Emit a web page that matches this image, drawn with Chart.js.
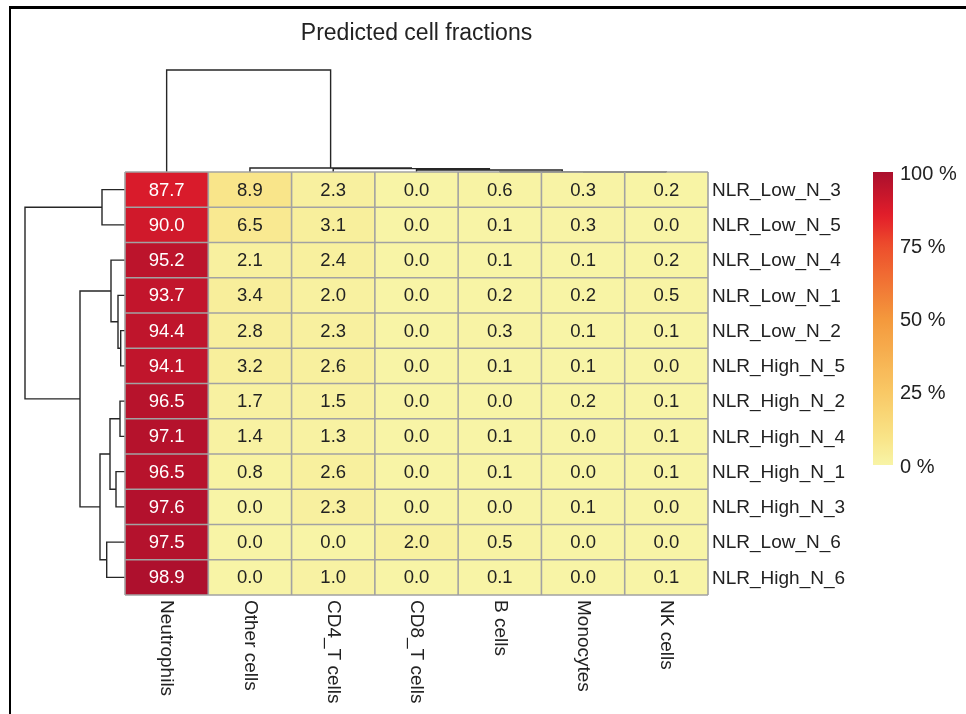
<!DOCTYPE html>
<html>
<head>
<meta charset="utf-8">
<script src="https://cdn.jsdelivr.net/npm/chart.js@4/dist/chart.umd.min.js"></script>
<style>
  html, body { margin: 0; padding: 0; background: #ffffff; }
  canvas { display: block; }
</style>
</head>
<body>
<canvas id="heatmap" width="966" height="714"></canvas>
<script>
// Samples (rows, in clustered order) and cell types (columns, in clustered order)
const sampleLabels = [
  "NLR_Low_N_3", "NLR_Low_N_5", "NLR_Low_N_4", "NLR_Low_N_1", "NLR_Low_N_2", "NLR_High_N_5",
  "NLR_High_N_2", "NLR_High_N_4", "NLR_High_N_1", "NLR_High_N_3", "NLR_Low_N_6", "NLR_High_N_6"
];
const cellTypes = ["Neutrophils", "Other cells", "CD4_T cells", "CD8_T cells", "B cells", "Monocytes", "NK cells"];

// Predicted fraction (%) of each cell type per sample
const neutrophils = [87.7, 90.0, 95.2, 93.7, 94.4, 94.1, 96.5, 97.1, 96.5, 97.6, 97.5, 98.9];
const otherCells  = [8.9, 6.5, 2.1, 3.4, 2.8, 3.2, 1.7, 1.4, 0.8, 0.0, 0.0, 0.0];
const cd4TCells   = [2.3, 3.1, 2.4, 2.0, 2.3, 2.6, 1.5, 1.3, 2.6, 2.3, 0.0, 1.0];
const cd8TCells   = [0.0, 0.0, 0.0, 0.0, 0.0, 0.0, 0.0, 0.0, 0.0, 0.0, 2.0, 0.0];
const bCells      = [0.6, 0.1, 0.1, 0.2, 0.3, 0.1, 0.0, 0.1, 0.1, 0.0, 0.5, 0.1];
const monocytes   = [0.3, 0.3, 0.1, 0.2, 0.1, 0.1, 0.2, 0.0, 0.0, 0.1, 0.0, 0.0];
const nkCells     = [0.2, 0.0, 0.2, 0.5, 0.1, 0.0, 0.1, 0.1, 0.1, 0.0, 0.0, 0.1];
const fractionsByType = [neutrophils, otherCells, cd4TCells, cd8TCells, bCells, monocytes, nkCells];

const colorbarTicks = [0, 25, 50, 75, 100];

// Hierarchical clustering merges: [childA, childB, distance].
// Children < leaf count are leaves; higher ids refer to earlier merges.
const rowLinkage = [
  [4, 5, 4.3],    // 12
  [3, 12, 7],     // 13
  [2, 13, 14],    // 14
  [6, 7, 5],      // 15
  [8, 9, 9],      // 16
  [15, 16, 15],   // 17
  [10, 11, 18.3], // 18
  [17, 18, 25],   // 19
  [14, 19, 45],   // 20
  [0, 1, 23],     // 21
  [21, 20, 100]   // 22
];
const colLinkage = [
  [5, 6, 0.05],   // 7
  [4, 7, 0.1],    // 8
  [3, 8, 2],      // 9
  [2, 9, 3.4],    // 10
  [1, 10, 4],     // 11
  [0, 11, 102]    // 12
];

// Sequential yellow -> orange -> red palette
const paletteStops = [
  [0.00, [248, 244, 166]],
  [0.10, [249, 227, 134]],
  [0.25, [249, 200, 101]],
  [0.50, [244, 152, 60]],
  [0.75, [237, 77, 44]],
  [0.85, [227, 30, 42]],
  [1.00, [170, 15, 45]]
];
function heatColor(pct) {
  const t = Math.max(0, Math.min(1, pct / 100));
  for (let i = 1; i < paletteStops.length; i++) {
    const [t1, c1] = paletteStops[i];
    const [t0, c0] = paletteStops[i - 1];
    if (t <= t1) {
      const f = (t - t0) / (t1 - t0);
      const c = c0.map((v, k) => Math.round(v + (c1[k] - v) * f));
      return `rgb(${c[0]},${c[1]},${c[2]})`;
    }
  }
  const c = paletteStops[paletteStops.length - 1][1];
  return `rgb(${c[0]},${c[1]},${c[2]})`;
}

const FONT = '"Liberation Sans", Arial, Helvetica, sans-serif';
const TEXT = '#222222';

// Each cell type is one dataset of floating bars spanning [c, c+1] on the x axis
const datasets = cellTypes.map((name, c) => ({
  label: name,
  data: sampleLabels.map(() => [c, c + 1]),
  backgroundColor: fractionsByType[c].map(v => heatColor(v)),
  borderWidth: 0,
  grouped: false,
  barPercentage: 1,
  categoryPercentage: 1
}));

function dendroPositions(linkage, leafPos) {
  const pos = leafPos.slice();
  const height = leafPos.map(() => 0);
  linkage.forEach(([a, b, h]) => {
    pos.push((pos[a] + pos[b]) / 2);
    height.push(h);
  });
  return { pos, height };
}

const decorations = {
  id: 'decorations',
  beforeDraw(chart) {
    const ctx = chart.ctx;
    ctx.save();
    ctx.fillStyle = '#ffffff';
    ctx.fillRect(0, 0, chart.width, chart.height);
    // page frame
    ctx.fillStyle = '#000000';
    ctx.fillRect(9, 6, chart.width - 9, 3);
    ctx.fillRect(9, 6, 2, chart.height - 6);
    ctx.restore();
  },
  afterDatasetsDraw(chart) {
    const { ctx, chartArea: area, scales: { x, y } } = chart;
    ctx.save();

    // row dendrogram (left)
    ctx.strokeStyle = '#262626';
    ctx.lineWidth = 1.4;
    const rowLeaves = sampleLabels.map((_, r) => y.getPixelForValue(r));
    const rd = dendroPositions(rowLinkage, rowLeaves);
    const rowMax = Math.max(...rowLinkage.map(l => l[2]));
    const rowDepth = 100;
    const hx = h => area.left - h / rowMax * rowDepth;
    ctx.beginPath();
    rowLinkage.forEach(([a, b, h]) => {
      ctx.moveTo(hx(rd.height[a]), rd.pos[a]);
      ctx.lineTo(hx(h), rd.pos[a]);
      ctx.lineTo(hx(h), rd.pos[b]);
      ctx.lineTo(hx(rd.height[b]), rd.pos[b]);
    });
    ctx.stroke();

    // column dendrogram (top)
    const colLeaves = cellTypes.map((_, c) => x.getPixelForValue(c + 0.5));
    const cd = dendroPositions(colLinkage, colLeaves);
    const colMax = Math.max(...colLinkage.map(l => l[2]));
    const colDepth = 102;
    const hy = h => area.top - h / colMax * colDepth;
    ctx.beginPath();
    colLinkage.forEach(([a, b, h]) => {
      ctx.moveTo(cd.pos[a], hy(cd.height[a]));
      ctx.lineTo(cd.pos[a], hy(h));
      ctx.lineTo(cd.pos[b], hy(h));
      ctx.lineTo(cd.pos[b], hy(cd.height[b]));
    });
    ctx.stroke();

    // cell grid
    ctx.strokeStyle = '#a2a2a2';
    ctx.lineWidth = 1.6;
    ctx.beginPath();
    for (let c = 0; c <= cellTypes.length; c++) {
      const px = x.getPixelForValue(c);
      ctx.moveTo(px, area.top);
      ctx.lineTo(px, area.bottom);
    }
    for (let r = 0; r <= sampleLabels.length; r++) {
      const py = r === 0 ? area.top : r === sampleLabels.length ? area.bottom
        : (y.getPixelForValue(r - 1) + y.getPixelForValue(r)) / 2;
      ctx.moveTo(area.left, py);
      ctx.lineTo(area.right, py);
    }
    ctx.stroke();

    // cell values
    ctx.font = `18.5px ${FONT}`;
    ctx.textAlign = 'center';
    ctx.textBaseline = 'middle';
    chart.data.datasets.forEach((ds, c) => {
      const meta = chart.getDatasetMeta(c);
      meta.data.forEach((el, r) => {
        const v = fractionsByType[c][r];
        const p = el.getCenterPoint();
        ctx.fillStyle = v > 60 ? '#ffffff' : TEXT;
        ctx.fillText(v.toFixed(1), p.x, p.y + 1);
      });
    });

    // sample labels on the right
    ctx.font = `19px ${FONT}`;
    ctx.fillStyle = TEXT;
    ctx.textAlign = 'left';
    sampleLabels.forEach((lab, r) => {
      ctx.fillText(lab, area.right + 4, y.getPixelForValue(r) + 1);
    });

    // cell type labels below, rotated
    cellTypes.forEach((lab, c) => {
      ctx.save();
      ctx.translate(x.getPixelForValue(c + 0.5), area.bottom + 5);
      ctx.rotate(Math.PI / 2);
      ctx.textAlign = 'left';
      ctx.textBaseline = 'middle';
      ctx.fillText(lab, 0, 0);
      ctx.restore();
    });

    // title
    ctx.font = `23px ${FONT}`;
    ctx.textAlign = 'center';
    ctx.fillText('Predicted cell fractions', (area.left + area.right) / 2, 34);

    // colour bar
    const cbLeft = 873, cbWidth = 20, cbTop = area.top, cbBottom = 465;
    const grad = ctx.createLinearGradient(0, cbBottom, 0, cbTop);
    for (let i = 0; i <= 50; i++) grad.addColorStop(i / 50, heatColor(i * 2));
    ctx.fillStyle = grad;
    ctx.fillRect(cbLeft, cbTop, cbWidth, cbBottom - cbTop);
    ctx.font = `20px ${FONT}`;
    ctx.fillStyle = TEXT;
    ctx.textAlign = 'left';
    ctx.textBaseline = 'middle';
    colorbarTicks.forEach(t => {
      const py = cbBottom - t / 100 * (cbBottom - cbTop);
      ctx.fillText(`${t} %`, cbLeft + cbWidth + 7, py + 2);
    });

    ctx.restore();
  }
};

new Chart(document.getElementById('heatmap'), {
  type: 'bar',
  data: { labels: sampleLabels, datasets },
  options: {
    indexAxis: 'y',
    responsive: false,
    animation: false,
    events: [],
    layout: { padding: { left: 125, right: 258, top: 172, bottom: 119 } },
    scales: {
      x: { type: 'linear', min: 0, max: cellTypes.length, display: false },
      y: { type: 'category', display: false, offset: true }
    },
    plugins: {
      legend: { display: false },
      tooltip: { enabled: false },
      title: { display: false }
    }
  },
  plugins: [decorations]
});
</script>
</body>
</html>
